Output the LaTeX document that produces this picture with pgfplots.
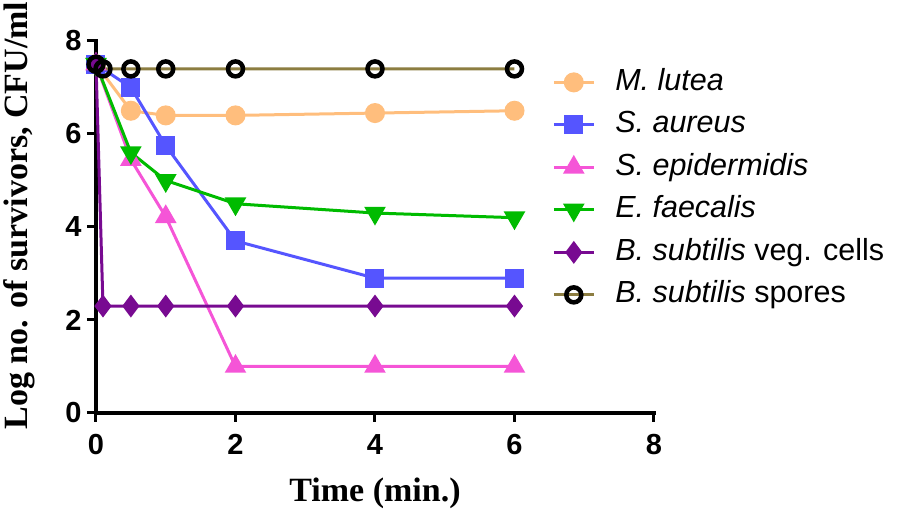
\documentclass[border=0pt]{standalone}
\usepackage{pgfplots}
\pgfplotsset{compat=1.18}
\usepackage{fontspec}
\setmainfont{Liberation Sans}
\newfontfamily\timesfont{Liberation Serif}
\definecolor{mlutea}{RGB}{255,190,125}
\definecolor{saureus}{RGB}{85,85,255}
\definecolor{sepi}{RGB}{245,85,215}
\definecolor{efaec}{RGB}{0,187,0}
\definecolor{veg}{RGB}{120,10,145}
\definecolor{spore}{RGB}{140,125,65}
\begin{document}
\begin{tikzpicture}
\begin{axis}[
  name=ax, at={(0,0)}, anchor=south west,
  scale only axis, width=558pt, height=372pt,
  xmin=0, xmax=8, ymin=0, ymax=8,
  axis lines*=left,
  axis line style={line width=3.5pt, line cap=rect},
  xtick={0,2,4,6,8}, ytick={0,2,4,6,8},
  tick align=outside,
  major tick length=9pt,
  tick style={line width=3pt, black},
  /pgf/number format/assume math mode=true,
  ticklabel style={font=\bfseries\fontsize{29}{30}\selectfont},
  xticklabel style={yshift=-9pt},
  yticklabel style={xshift=-2pt},
  xlabel={\timesfont\bfseries Time (min.)},
  ylabel={\timesfont\bfseries Log no. of survivors, CFU/ml},
  label style={font=\fontsize{34}{36}\selectfont},
  xlabel style={at={(axis description cs:0.5,0)}, anchor=center, yshift=-80pt},
  ylabel style={at={(axis description cs:-0.137,0.531)}, anchor=center},
  legend style={at={(axis description cs:0.812,0.935)}, anchor=north west,
    draw=none, fill=none, font=\fontsize{30.5}{36}\selectfont,
    row sep=12.5pt, nodes={text height=23pt, text depth=7pt, inner sep=0pt, inner xsep=20pt}},
  legend cell align=left,
  legend image code/.code={\draw[mark repeat=2,mark phase=2] plot coordinates {(0pt,0pt)(20pt,0pt)(40pt,0pt)};},
  every axis plot/.append style={line width=3pt},
  clip=false,
]
\addplot[color=mlutea, mark=*, mark size=8.5pt, mark options={solid}] coordinates {(0,7.5)(0.5,6.5)(1,6.4)(2,6.4)(4,6.45)(6,6.5)};
\addlegendentry{\itshape M. lutea}
\addplot[color=saureus, mark=square*, mark size=8pt] coordinates {(0,7.5)(0.5,7.0)(1,5.75)(2,3.7)(4,2.9)(6,2.9)};
\addlegendentry{\itshape S. aureus}
\addplot[color=sepi, mark=triangle*, mark size=9.5pt] coordinates {(0,7.5)(0.5,5.45)(1,4.22)(2,1.0)(4,1.0)(6,1.0)};
\addlegendentry{\itshape S. epidermidis}
\addplot[color=efaec, mark=triangle*, mark size=9.5pt, mark options={rotate=180}] coordinates {(0,7.5)(0.5,5.6)(1,5.0)(2,4.5)(4,4.3)(6,4.2)};
\addlegendentry{\itshape E. faecalis}
\addplot[color=veg, mark=diamond*, mark size=9pt] coordinates {(0,7.5)(0.1,2.3)(0.5,2.3)(1,2.3)(2,2.3)(4,2.3)(6,2.3)};
\addlegendentry{{\itshape B. subtilis} veg. cells}
\addplot[color=spore, mark=o, mark size=7.5pt, mark options={draw=black, fill=white, line width=4.5pt}] coordinates {(0,7.5)(0.1,7.4)(0.5,7.4)(1,7.4)(2,7.4)(4,7.4)(6,7.4)};
\addlegendentry{{\itshape B. subtilis} spores}
\end{axis}
\pgfresetboundingbox
\useasboundingbox (-96pt,-103pt) rectangle (802pt,413pt);
\end{tikzpicture}
\end{document}
